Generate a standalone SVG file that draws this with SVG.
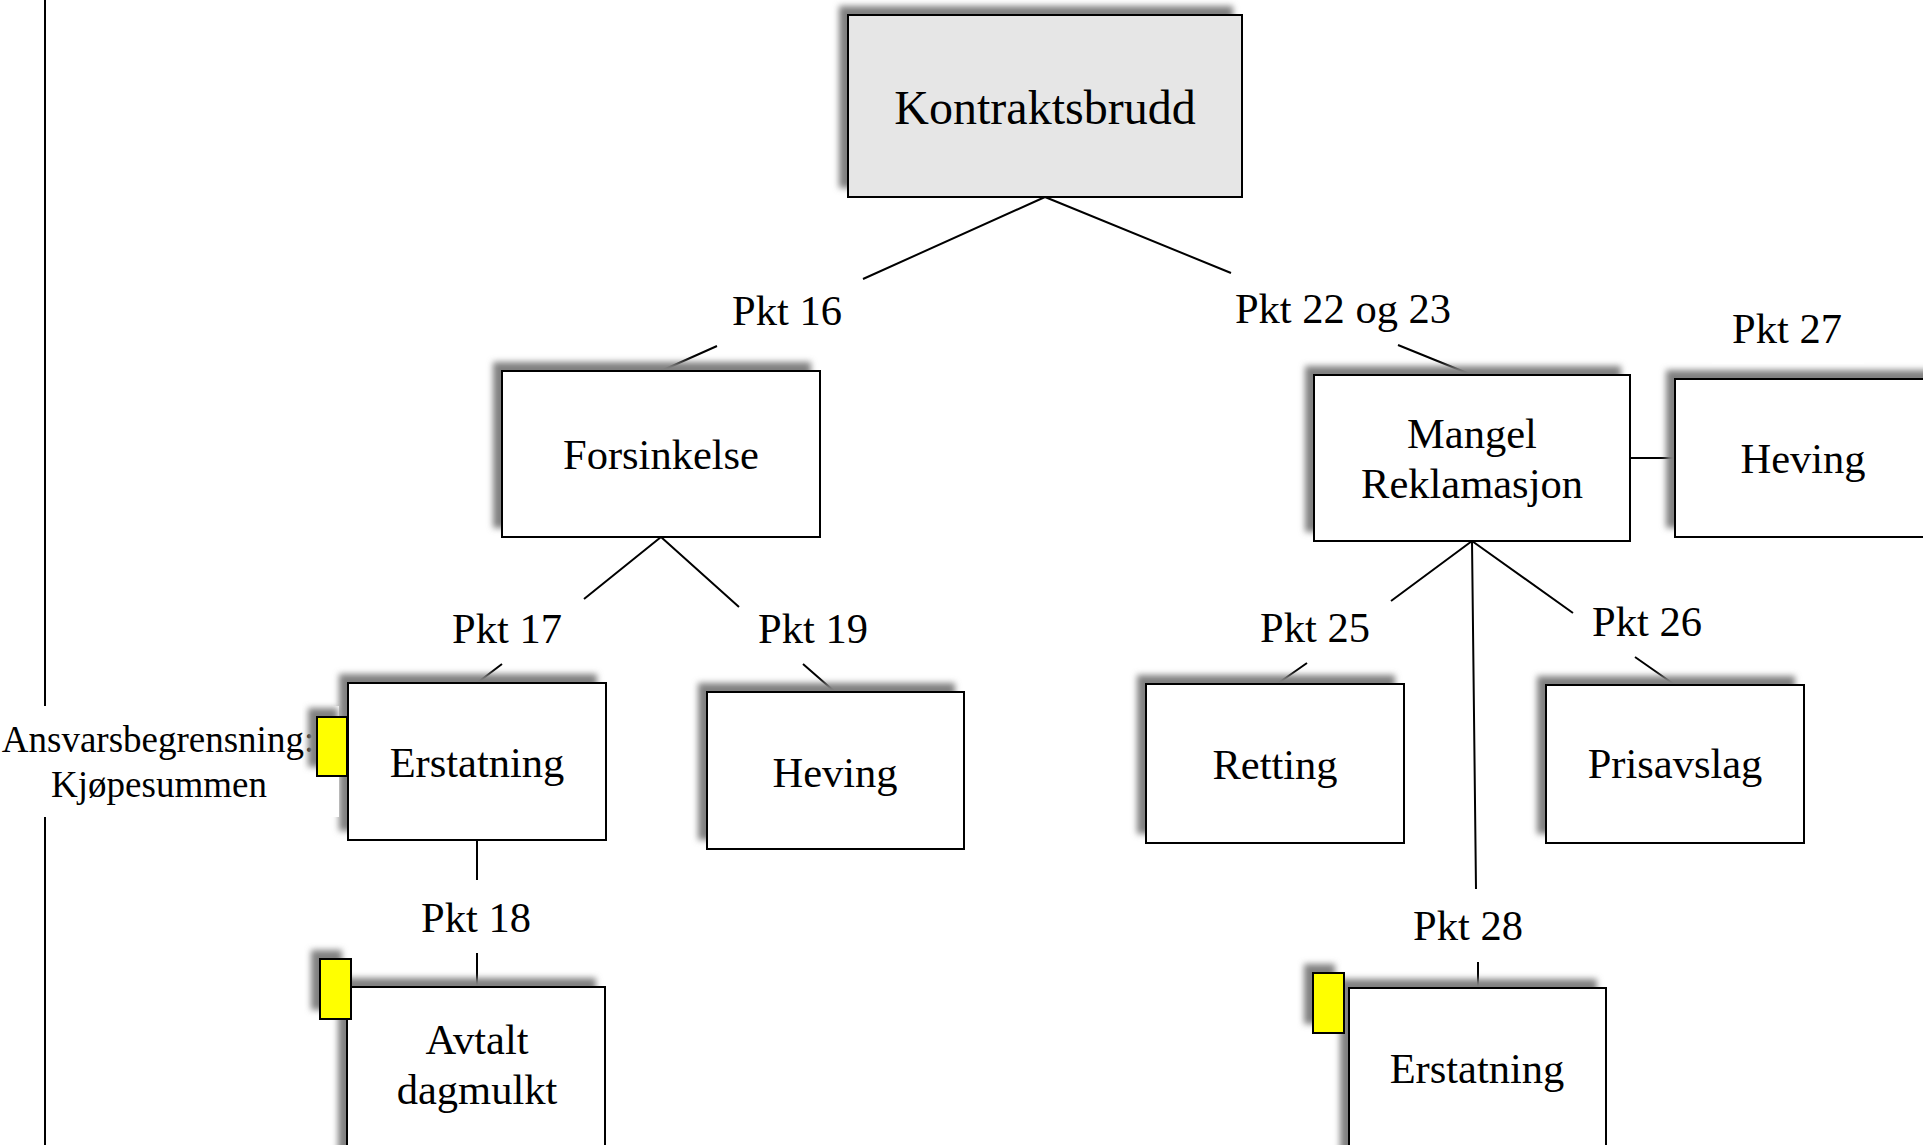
<svg xmlns="http://www.w3.org/2000/svg" width="1923" height="1145" viewBox="0 0 1923 1145">
  <defs>
    <filter id="blur" x="-20%" y="-20%" width="140%" height="140%">
      <feGaussianBlur stdDeviation="3"/>
    </filter>
  </defs>
  <style>
    .shadow { fill: #808080; filter: url(#blur); }
    .box { fill: #ffffff; stroke: #000000; stroke-width: 2; }
    .root { fill: #e6e6e6; stroke: #000000; stroke-width: 2; }
    .flag { fill: #ffff00; stroke: #000000; stroke-width: 2; }
    .conn { fill: none; stroke: #000000; stroke-width: 2; }
    .bg { fill: #ffffff; }
    text { font-family: "Liberation Serif", "Times New Roman", serif; fill: #000000; text-anchor: middle; }
    .node { font-size: 42.5px; }
    .lbl { font-size: 42.5px; }
    .big { font-size: 48px; }
    .note { font-size: 37px; }
  </style>
  <rect width="1923" height="1145" fill="#ffffff"/>

  <g id="margin-line">
    <path class="conn" d="M45 0 L45 706 M45 817 L45 1145"/>
  </g>

  <g id="connectors">
    <path class="conn" d="M1045 197 L863 279 M717 346 L661 371"/>
    <path class="conn" d="M1045 197 L1231 273 M1398 345 L1472 375"/>
    <path class="conn" d="M661 537 L584 599 M502 664 L477 683"/>
    <path class="conn" d="M661 537 L739 607 M803 664 L835 692"/>
    <path class="conn" d="M477 840 L477 880 M477 953 L477 987"/>
    <path class="conn" d="M1472 541 L1391 601 M1307 663 L1277 684"/>
    <path class="conn" d="M1472 541 L1573 613 M1635 657 L1675 685"/>
    <path class="conn" d="M1472 541 L1476 889 M1478 962 L1478 988"/>
    <path class="conn" d="M1630 458 L1675 458"/>
  </g>

  <g id="node-kontraktsbrudd">
    <rect class="shadow" x="839" y="6" width="394" height="182"/>
    <rect class="root" x="848" y="15" width="394" height="182"/>
    <text class="big" x="1045" y="124">Kontraktsbrudd</text>
  </g>

  <g id="node-forsinkelse">
    <rect class="shadow" x="493" y="362" width="318" height="166"/>
    <rect class="box" x="502" y="371" width="318" height="166"/>
    <text class="node" x="661" y="469">Forsinkelse</text>
  </g>

  <g id="node-mangel">
    <rect class="shadow" x="1305" y="366" width="316" height="166"/>
    <rect class="box" x="1314" y="375" width="316" height="166"/>
    <text class="node" x="1472" y="448">Mangel</text>
    <text class="node" x="1472" y="498">Reklamasjon</text>
  </g>

  <g id="node-heving-27">
    <rect class="shadow" x="1666" y="370" width="270" height="158"/>
    <rect class="box" x="1675" y="379" width="270" height="158"/>
    <text class="node" x="1803" y="473">Heving</text>
  </g>

  <g id="label-pkt27">
    <rect class="bg" x="1712" y="300" width="152" height="64"/>
    <text class="lbl" x="1787" y="343">Pkt 27</text>
  </g>

  <g id="labels">
    <text class="lbl" x="787" y="325">Pkt 16</text>
    <text class="lbl" x="1343" y="323">Pkt 22 og 23</text>
    <text class="lbl" x="507" y="643">Pkt 17</text>
    <text class="lbl" x="813" y="643">Pkt 19</text>
    <text class="lbl" x="1315" y="642">Pkt 25</text>
    <text class="lbl" x="1647" y="636">Pkt 26</text>
    <text class="lbl" x="476" y="932">Pkt 18</text>
    <text class="lbl" x="1468" y="940">Pkt 28</text>
  </g>

  <g id="node-erstatning-17">
    <rect class="shadow" x="339" y="674" width="258" height="157"/>
    <rect class="box" x="348" y="683" width="258" height="157"/>
    <text class="node" x="477" y="777">Erstatning</text>
  </g>

  <g id="note-ansvarsbegrensning">
    <rect class="bg" x="0" y="706" width="339" height="111"/>
    <text class="note" x="158" y="752">Ansvarsbegrensning:</text>
    <text class="note" x="159" y="797">Kjøpesummen</text>
  </g>

  <g id="flag-erstatning-17">
    <rect class="shadow" x="308" y="708" width="30" height="59"/>
    <rect class="flag" x="317" y="717" width="30" height="59"/>
  </g>

  <g id="node-heving-19">
    <rect class="shadow" x="698" y="683" width="257" height="157"/>
    <rect class="box" x="707" y="692" width="257" height="157"/>
    <text class="node" x="835" y="787">Heving</text>
  </g>

  <g id="node-retting">
    <rect class="shadow" x="1137" y="675" width="258" height="159"/>
    <rect class="box" x="1146" y="684" width="258" height="159"/>
    <text class="node" x="1275" y="779">Retting</text>
  </g>

  <g id="node-prisavslag">
    <rect class="shadow" x="1537" y="676" width="258" height="158"/>
    <rect class="box" x="1546" y="685" width="258" height="158"/>
    <text class="node" x="1675" y="778">Prisavslag</text>
  </g>

  <g id="node-avtalt-dagmulkt">
    <rect class="shadow" x="338" y="978" width="258" height="190"/>
    <rect class="box" x="347" y="987" width="258" height="190"/>
    <text class="node" x="477" y="1054">Avtalt</text>
    <text class="node" x="477" y="1104">dagmulkt</text>
    <rect class="shadow" x="311" y="950" width="31" height="60"/>
    <rect class="flag" x="320" y="959" width="31" height="60"/>
  </g>

  <g id="node-erstatning-28">
    <rect class="shadow" x="1340" y="979" width="257" height="190"/>
    <rect class="box" x="1349" y="988" width="257" height="190"/>
    <text class="node" x="1477" y="1083">Erstatning</text>
    <rect class="shadow" x="1304" y="964" width="31" height="60"/>
    <rect class="flag" x="1313" y="973" width="31" height="60"/>
  </g>
</svg>
